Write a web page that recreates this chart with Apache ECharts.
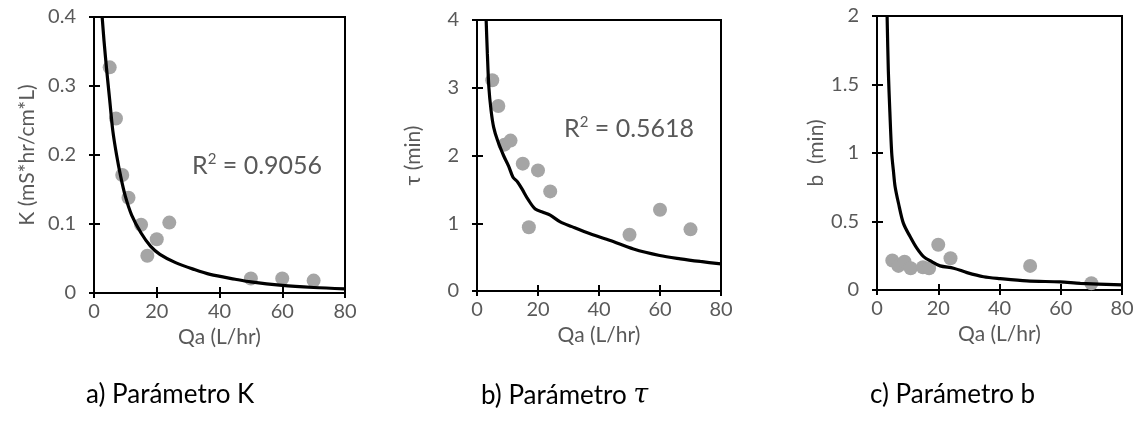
<!DOCTYPE html>
<html><head><meta charset="utf-8">
<script src="https://cdn.jsdelivr.net/npm/echarts@6/dist/echarts.min.js"></script>
<style>html,body{margin:0;padding:0;background:#fff}#c{width:1139px;height:427px}</style>
</head><body><div id="c"></div>
<script>
// ---- data ----
const qa = [5, 7, 9, 11, 15, 17, 20, 24, 50, 60, 70];
const kObs = [0.327, 0.253, 0.171, 0.138, 0.099, 0.054, 0.078, 0.102, 0.021, 0.021, 0.018];
const tauObs = [3.11, 2.73, 2.16, 2.22, 1.88, 0.94, 1.78, 1.47, 0.83, 1.20, 0.91];
const qaB = [5, 7, 9, 11, 15, 17, 20, 24, 50, 70];
const bObs = [0.215, 0.176, 0.207, 0.159, 0.166, 0.159, 0.33, 0.232, 0.176, 0.049];

const kFitQa = [2.6, 3.2, 4.0, 5.0, 6.0, 7.2, 8.5, 10, 12, 15, 18, 21, 26, 32, 37, 45, 50, 60, 70, 80];
const kFit   = [0.4, 0.365, 0.325, 0.28, 0.235, 0.2, 0.169, 0.140, 0.113, 0.087, 0.068, 0.056, 0.044, 0.034, 0.027, 0.020, 0.016, 0.011, 0.008, 0.006];
const tauFitQa = [3.0, 3.4, 3.9, 4.6, 5.45, 6.75, 8.7, 10.4, 11.8, 13.3, 14.7, 16.9, 19.1, 21.8, 24, 27.3, 31.1, 37.1, 43.7, 51.3, 59.9, 66.7, 73.2, 80];
const tauFit   = [4.0, 3.5, 3.0, 2.67, 2.42, 2.22, 2.0, 1.84, 1.68, 1.61, 1.51, 1.34, 1.21, 1.16, 1.12, 1.02, 0.95, 0.845, 0.745, 0.62, 0.524, 0.475, 0.436, 0.40];
const bFitQa = [3.3, 3.7, 4.2, 4.8, 5.4, 5.9, 7.0, 8.6, 10.8, 13.0, 15.2, 17.9, 20.6, 25.0, 29.4, 34.8, 40.2, 48.9, 59.8, 66.4, 80];
const bFit   = [2.0, 1.6, 1.3, 1.0, 0.86, 0.756, 0.635, 0.488, 0.39, 0.305, 0.244, 0.207, 0.176, 0.159, 0.127, 0.097, 0.083, 0.066, 0.059, 0.049, 0.037];

const xMin = 0, xMax = 80, xStep = 20;
const yMaxes = [0.4, 4, 2];
const ySteps = [0.1, 1, 0.5];
const yNames = ['K (mS*hr/cm*L)', 'τ (min)', 'b  (min)'];
const xName = 'Qa (L/hr)';
const r2Values = ['0.9056', '0.5618'];
const captionText = ['a) Parámetro K', 'b) Parámetro ', 'c) Parámetro b'];

// ---- layout / style ----
const FONT = 'Lato, "Open Sans", sans-serif';
const GRAY = '#595959';
const grids = [
  {left: 94, top: 17, width: 251, height: 276},
  {left: 477, top: 20, width: 244, height: 271},
  {left: 877, top: 16, width: 245, height: 274}
];
const yNameGaps = [56, 53, 50];

const pair = (xs, ys) => xs.map((x, i) => [x, ys[i]]);
const obsSets = [pair(qa, kObs), pair(qa, tauObs), pair(qaB, bObs)];
const fitSets = [pair(kFitQa, kFit), pair(tauFitQa, tauFit), pair(bFitQa, bFit)];

const xAxes = [], yAxes = [], series = [];
grids.forEach((g, i) => {
  xAxes.push({
    type: 'value', gridIndex: i, position: 'bottom', min: xMin, max: xMax, interval: xStep,
    name: xName, nameLocation: 'middle', nameGap: 32,
    nameTextStyle: {color: GRAY, fontSize: 21, fontFamily: FONT},
    axisLine: {show: true, onZero: false, lineStyle: {color: '#000', width: 2}},
    axisTick: {show: true, inside: false, length: 5, lineStyle: {color: '#000', width: 2}},
    axisLabel: {color: GRAY, fontSize: 20, fontFamily: FONT, margin: 9},
    splitLine: {show: false}
  });
  xAxes.push({
    type: 'value', gridIndex: i, position: 'bottom', min: xMin, max: xMax, interval: xStep,
    axisLine: {show: false}, axisLabel: {show: false}, splitLine: {show: false},
    axisTick: {show: true, inside: true, length: 6, lineStyle: {color: '#000', width: 2}}
  });
  yAxes.push({
    type: 'value', gridIndex: i, position: 'left', min: 0, max: yMaxes[i], interval: ySteps[i],
    name: yNames[i], nameLocation: 'middle', nameGap: yNameGaps[i], nameRotate: 90,
    nameTextStyle: {color: GRAY, fontSize: 21, fontFamily: FONT},
    axisLine: {show: true, onZero: false, lineStyle: {color: '#000', width: 2}},
    axisTick: {show: true, inside: false, length: 5, lineStyle: {color: '#000', width: 2}},
    axisLabel: {color: GRAY, fontSize: 20, fontFamily: FONT, margin: 18},
    splitLine: {show: false}
  });
  yAxes.push({
    type: 'value', gridIndex: i, position: 'left', min: 0, max: yMaxes[i], interval: ySteps[i],
    axisLine: {show: false}, axisLabel: {show: false}, splitLine: {show: false},
    axisTick: {show: true, inside: true, length: 6, lineStyle: {color: '#000', width: 2}}
  });
  series.push({
    type: 'scatter', xAxisIndex: 2 * i, yAxisIndex: 2 * i, data: obsSets[i],
    symbol: 'circle', symbolSize: 14, itemStyle: {color: '#A5A5A5', opacity: 1}, z: 2,
    silent: true
  });
  series.push({
    type: 'line', xAxisIndex: 2 * i, yAxisIndex: 2 * i, data: fitSets[i],
    showSymbol: false, smooth: 0.3, clip: true,
    lineStyle: {color: '#000', width: 3.2}, z: 3, silent: true
  });
});

const r2Rich = {
  a: {fill: GRAY, fontSize: 25, fontFamily: FONT, lineHeight: 28},
  s: {fill: GRAY, fontSize: 15, fontFamily: FONT, lineHeight: 15, verticalAlign: 'top'}
};
const capStyle = {fill: '#000', fontSize: 26, fontFamily: FONT};

const chart = echarts.init(document.getElementById('c'), null, {renderer: 'canvas'});
chart.setOption({
  backgroundColor: '#fff',
  animation: false,
  grid: grids.map(g => Object.assign({show: true, borderColor: '#000', borderWidth: 2, backgroundColor: 'transparent', containLabel: false}, g)),
  xAxis: xAxes,
  yAxis: yAxes,
  series: series,
  graphic: [
    {type: 'text', left: 192, top: 152, style: {text: '{a|R}{s|2}{a| = ' + r2Values[0] + '}', rich: r2Rich}},
    {type: 'text', left: 564, top: 115, style: {text: '{a|R}{s|2}{a| = ' + r2Values[1] + '}', rich: r2Rich}},
    {type: 'text', left: 86, top: 382, style: {text: captionText[0], fill: capStyle.fill, fontSize: 26, fontFamily: FONT}},
    {type: 'text', left: 481, top: 382, style: {
      text: '{n|' + captionText[1] + '}{t|τ}',
      rich: {n: capStyle, t: {fill: '#000', fontSize: 27, fontFamily: '"DejaVu Serif", serif', fontStyle: 'italic'}}
    }},
    {type: 'text', left: 870, top: 382, style: {text: captionText[2], fill: capStyle.fill, fontSize: 26, fontFamily: FONT}}
  ]
});
</script></body></html>
